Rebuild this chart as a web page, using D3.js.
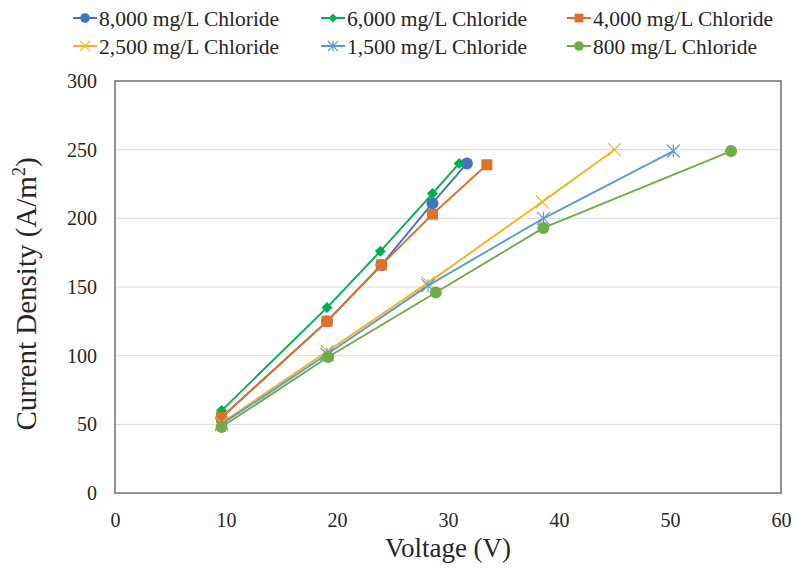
<!DOCTYPE html>
<html>
<head>
<meta charset="utf-8">
<script src="https://cdn.jsdelivr.net/npm/d3@7"></script>
<style>
    body { margin: 0; background: #fff; }
    svg { display: block; }
</style>
</head>
<body>
<div id="chart"></div>
<script>
const seriesNames = ["8,000 mg/L Chloride", "6,000 mg/L Chloride", "4,000 mg/L Chloride",
                     "2,500 mg/L Chloride", "1,500 mg/L Chloride", "800 mg/L Chloride"];
const seriesColors = ["#4472C4", "#00B050", "#E07128", "#F2B521", "#5B9BD5", "#70AD47"];
const seriesMarkers = ["circle", "diamond", "square", "x", "star", "circle"];

const voltage8000 = [9.6, 19.1, 24.0, 28.6, 31.7];
const density8000 = [55, 125, 166, 211, 240];
const voltage6000 = [9.6, 19.1, 23.9, 28.6, 31.0];
const density6000 = [60, 135, 176, 218, 240];
const voltage4000 = [9.6, 19.1, 24.0, 28.6, 33.5];
const density4000 = [55, 125, 166, 203, 239];
const voltage2500 = [9.6, 19.1, 28.2, 38.5, 45.0];
const density2500 = [51, 103, 153, 212, 250];
const voltage1500 = [9.6, 19.1, 28.2, 38.6, 50.3];
const density1500 = [50, 101, 151, 200, 249];
const voltage800 = [9.6, 19.2, 28.9, 38.6, 55.5];
const density800 = [48, 99, 146, 193, 249];

const xTicks = [0, 10, 20, 30, 40, 50, 60];
const yTicks = [0, 50, 100, 150, 200, 250, 300];

const voltages = [voltage8000, voltage6000, voltage4000, voltage2500, voltage1500, voltage800];
const densities = [density8000, density6000, density4000, density2500, density1500, density800];

const width = 795, height = 569;
const margin = { left: 115, right: 14, top: 81, bottom: 76 };
const FONT = "'Liberation Serif', 'Times New Roman', serif";
const TEXT_COLOR = '#262626';

const svg = d3.select('#chart')
    .append('svg')
    .attr('width', width)
    .attr('height', height);

const x = d3.scaleLinear().domain([0, 60]).range([margin.left, width - margin.right]);
const y = d3.scaleLinear().domain([0, 300]).range([height - margin.bottom, margin.top]);

// gridlines
svg.append('g')
    .selectAll('line')
    .data(yTicks.slice(1, -1))
    .enter()
    .append('line')
    .attr('x1', x(0))
    .attr('x2', x(60))
    .attr('y1', d => y(d))
    .attr('y2', d => y(d))
    .attr('stroke', '#d9d9d9')
    .attr('stroke-width', 1);

// plot border
svg.append('rect')
    .attr('x', x(0))
    .attr('y', y(300))
    .attr('width', x(60) - x(0))
    .attr('height', y(0) - y(300))
    .attr('fill', 'none')
    .attr('stroke', '#595959')
    .attr('stroke-width', 1.3);

// axes (labels only)
const xAxis = svg.append('g')
    .attr('transform', `translate(0,${y(0)})`)
    .call(d3.axisBottom(x).tickValues(xTicks).tickSize(0).tickPadding(20));
xAxis.select('.domain').remove();
xAxis.selectAll('text')
    .style('font-family', FONT)
    .style('font-size', '20px')
    .attr('fill', TEXT_COLOR);

const yAxis = svg.append('g')
    .attr('transform', `translate(${x(0)},0)`)
    .call(d3.axisLeft(y).tickValues(yTicks).tickSize(0).tickPadding(18));
yAxis.select('.domain').remove();
yAxis.selectAll('text')
    .style('font-family', FONT)
    .style('font-size', '20px')
    .attr('fill', TEXT_COLOR);

// axis titles
svg.append('text')
    .attr('x', 448)
    .attr('y', 557)
    .attr('text-anchor', 'middle')
    .style('font-family', FONT)
    .style('font-size', '27px')
    .attr('fill', TEXT_COLOR)
    .text('Voltage (V)');

const yTitle = svg.append('text')
    .attr('transform', `translate(36,294) rotate(-90)`)
    .attr('text-anchor', 'middle')
    .style('font-family', FONT)
    .style('font-size', '29px')
    .attr('fill', TEXT_COLOR);
yTitle.append('tspan').text('Current Density (A/m');
yTitle.append('tspan').attr('dy', -11).style('font-size', '18px').text('2');
yTitle.append('tspan').attr('dy', 11).text(')');

function drawMarker(g, type, color, cx, cy, scale) {
    const s = scale || 1;
    if (type === 'circle') {
        g.append('circle').attr('cx', cx).attr('cy', cy).attr('r', 6 * s).attr('fill', color);
    } else if (type === 'square') {
        g.append('rect').attr('x', cx - 5.5 * s).attr('y', cy - 5.5 * s)
            .attr('width', 11 * s).attr('height', 11 * s).attr('fill', color);
    } else if (type === 'diamond') {
        const r = 5.5 * s;
        g.append('path')
            .attr('d', `M${cx},${cy - r}L${cx + r},${cy}L${cx},${cy + r}L${cx - r},${cy}Z`)
            .attr('fill', color);
    } else if (type === 'x') {
        const r = 6.5 * s;
        g.append('path')
            .attr('d', `M${cx - r},${cy - r}L${cx + r},${cy + r}M${cx - r},${cy + r}L${cx + r},${cy - r}`)
            .attr('stroke', color).attr('stroke-width', 1.2).attr('fill', 'none');
    } else if (type === 'star') {
        const r = 6.5 * s;
        g.append('path')
            .attr('d', `M${cx - r},${cy - r}L${cx + r},${cy + r}M${cx - r},${cy + r}L${cx + r},${cy - r}M${cx},${cy - r}L${cx},${cy + r}`)
            .attr('stroke', color).attr('stroke-width', 1.2).attr('fill', 'none');
    }
}

const line = d3.line().x(d => x(d[0])).y(d => y(d[1]));

// later series sit on top, as in the source
for (let i = 0; i < seriesNames.length; i++) {
    const pts = voltages[i].map((v, k) => [v, densities[i][k]]);
    const g = svg.append('g');
    g.append('path')
        .datum(pts)
        .attr('d', line)
        .attr('fill', 'none')
        .attr('stroke', seriesColors[i])
        .attr('stroke-width', 1.9);
    for (const p of pts) {
        drawMarker(g, seriesMarkers[i], seriesColors[i], x(p[0]), y(p[1]));
    }
}

// legend
const legendCols = [73, 321, 567];
const legendRows = [18, 46];
for (let i = 0; i < seriesNames.length; i++) {
    const lx = legendCols[i % 3];
    const ly = legendRows[Math.floor(i / 3)];
    const g = svg.append('g');
    g.append('line')
        .attr('x1', lx).attr('x2', lx + 24)
        .attr('y1', ly).attr('y2', ly)
        .attr('stroke', seriesColors[i])
        .attr('stroke-width', 2);
    drawMarker(g, seriesMarkers[i], seriesColors[i], lx + 12, ly, 0.8);
    g.append('text')
        .attr('x', lx + 26)
        .attr('y', ly + 8)
        .style('font-family', FONT)
        .style('font-size', '21.5px')
        .attr('fill', TEXT_COLOR)
        .text(seriesNames[i]);
}
</script>
</body>
</html>
